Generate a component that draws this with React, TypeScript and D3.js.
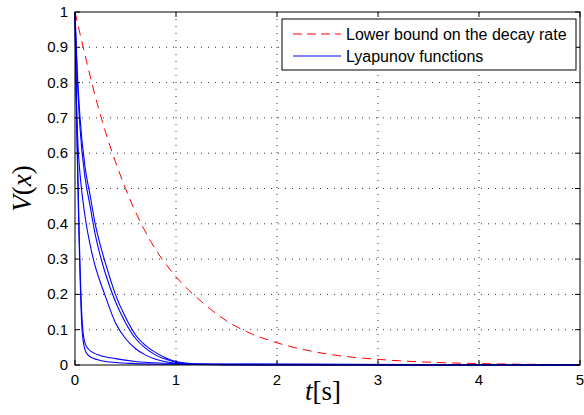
import * as React from 'react';
import {scaleLinear, line, curveMonotoneX} from 'd3';

// lower bound on the decay rate (red dashed)
const boundT = [0, 0.25, 0.5, 0.75, 1, 1.25, 1.5, 1.75, 2, 2.5, 3, 3.5, 4, 4.5, 5];
const boundV = [1, 0.71, 0.5, 0.35, 0.25, 0.18, 0.125, 0.088, 0.063, 0.031, 0.016, 0.008, 0.004, 0.002, 0.001];

// Lyapunov functions (blue), [t, V]
const fastUpper: [number, number][] = [[0, 1], [0.01, 0.82], [0.02, 0.66], [0.03, 0.52], [0.04, 0.39], [0.05, 0.28], [0.06, 0.19], [0.07, 0.13], [0.08, 0.092], [0.1, 0.062], [0.13, 0.046], [0.18, 0.035], [0.25, 0.027], [0.4, 0.018], [0.6, 0.01], [0.9, 0.005], [1.5, 0.001], [5, 0]];
const fastLower: [number, number][] = [[0, 1], [0.01, 0.8], [0.02, 0.63], [0.03, 0.49], [0.04, 0.36], [0.05, 0.25], [0.06, 0.16], [0.07, 0.1], [0.08, 0.07], [0.1, 0.042], [0.13, 0.028], [0.18, 0.019], [0.25, 0.013], [0.4, 0.007], [0.6, 0.004], [0.9, 0.002], [1.5, 0.0005], [5, 0]];
const slowA: [number, number][] = [[0, 1], [0.01, 0.8], [0.03, 0.62], [0.05, 0.54], [0.1, 0.42], [0.15, 0.34], [0.2, 0.28], [0.25, 0.235], [0.3, 0.195], [0.4, 0.12], [0.5, 0.075], [0.6, 0.046], [0.7, 0.028], [0.8, 0.016], [0.9, 0.009], [1.0, 0.005], [1.2, 0.002], [5, 0]];
const slowB: [number, number][] = [[0, 1], [0.02, 0.83], [0.05, 0.67], [0.1, 0.53], [0.15, 0.45], [0.2, 0.37], [0.25, 0.31], [0.3, 0.26], [0.4, 0.18], [0.5, 0.12], [0.6, 0.075], [0.7, 0.047], [0.8, 0.028], [0.9, 0.016], [1.0, 0.008], [1.2, 0.003], [5, 0]];
const slowC: [number, number][] = [[0, 1], [0.02, 0.85], [0.05, 0.7], [0.1, 0.56], [0.15, 0.48], [0.2, 0.4], [0.25, 0.34], [0.3, 0.29], [0.4, 0.2], [0.5, 0.135], [0.6, 0.085], [0.7, 0.055], [0.8, 0.035], [0.9, 0.02], [1.0, 0.01], [1.2, 0.003], [1.5, 0.001], [5, 0]];
const lyapunovCurves = [fastUpper, fastLower, slowA, slowB, slowC];

const xTicks = [0, 1, 2, 3, 4, 5];
const yTicks = [0, 0.1, 0.2, 0.3, 0.4, 0.5, 0.6, 0.7, 0.8, 0.9, 1];
const yTickLabels = ['0', '0.1', '0.2', '0.3', '0.4', '0.5', '0.6', '0.7', '0.8', '0.9', '1'];
const legendLabels = ['Lower bound on the decay rate', 'Lyapunov functions'];

const W = 584;
const H = 415;
const margin = {top: 12, right: 4, bottom: 50, left: 75};
const width = W - margin.left - margin.right;
const height = H - margin.top - margin.bottom;

const xScale = scaleLinear().domain([0, 5]).range([0, width]);
const yScale = scaleLinear().domain([0, 1]).range([height, 0]);

const pathOf = line<[number, number]>()
    .x(d => xScale(d[0]))
    .y(d => yScale(d[1]))
    .curve(curveMonotoneX);

const boundPts = boundT.map((t, i) => [t, boundV[i]] as [number, number]);

const tickFont = '"Liberation Sans", Arial, Helvetica, sans-serif';
const mathFont = '"Liberation Serif", "Times New Roman", serif';
const tickLen = 5;

export default function App() {
    return (
        <svg width={W} height={H} style={{position: 'absolute', left: 0, top: 0, background: '#fff'}}>
            <rect x={0} y={0} width={W} height={H} fill="#fff" />
            <g transform={`translate(${margin.left}, ${margin.top})`}>
                {/* grid */}
                {xTicks.slice(1, -1).map(t =>
                    <line key={'gx' + t} x1={xScale(t)} x2={xScale(t)} y1={0} y2={height}
                        stroke="#000" strokeWidth={1} strokeDasharray="1,6" opacity={0.8} />
                )}
                {yTicks.slice(1, -1).map(t =>
                    <line key={'gy' + t} x1={0} x2={width} y1={yScale(t)} y2={yScale(t)}
                        stroke="#000" strokeWidth={1} strokeDasharray="1,6" opacity={0.8} />
                )}
                {/* curves */}
                <path d={pathOf(boundPts)!} fill="none" stroke="#ff0000" strokeWidth={1}
                    strokeDasharray="9,6" />
                {lyapunovCurves.map((c, i) =>
                    <path key={i} d={pathOf(c)!} fill="none" stroke="#0000ff" strokeWidth={1.1} />
                )}
                {/* box and ticks */}
                <rect x={0} y={0} width={width} height={height} fill="none" stroke="#000" strokeWidth={1} />
                {xTicks.map(t =>
                    <g key={'tx' + t}>
                        <line x1={xScale(t)} x2={xScale(t)} y1={height} y2={height - tickLen} stroke="#000" />
                        <line x1={xScale(t)} x2={xScale(t)} y1={0} y2={tickLen} stroke="#000" />
                        <text x={xScale(t)} y={height + 20} textAnchor="middle" fontFamily={tickFont}
                            fontSize={15} fill="#000">{t}</text>
                    </g>
                )}
                {yTicks.map((t, i) =>
                    <g key={'ty' + t}>
                        <line x1={0} x2={tickLen} y1={yScale(t)} y2={yScale(t)} stroke="#000" />
                        <line x1={width} x2={width - tickLen} y1={yScale(t)} y2={yScale(t)} stroke="#000" />
                        <text x={-7} y={yScale(t) + 5} textAnchor="end" fontFamily={tickFont}
                            fontSize={15} fill="#000">{yTickLabels[i]}</text>
                    </g>
                )}
                {/* legend */}
                <g transform={`translate(${width - 298}, 7)`}>
                    <rect x={0} y={0} width={294} height={51} fill="#fff" stroke="#000" strokeWidth={1} />
                    <line x1={11} x2={59} y1={15} y2={15} stroke="#ff0000" strokeDasharray="9,5" />
                    <text x={64} y={20.5} fontFamily={tickFont} fontSize={16} fill="#000">{legendLabels[0]}</text>
                    <line x1={11} x2={59} y1={37} y2={37} stroke="#0000ff" />
                    <text x={64} y={42.5} fontFamily={tickFont} fontSize={16} fill="#000">{legendLabels[1]}</text>
                </g>
            </g>
            {/* axis labels */}
            <text transform={`translate(31, ${margin.top + height / 2}) rotate(-90)`} textAnchor="middle"
                fontFamily={mathFont} fontSize={27} fill="#000">
                <tspan fontStyle="italic">V</tspan>(<tspan fontStyle="italic">x</tspan>)
            </text>
            <text x={323} y={400} textAnchor="middle" fontFamily={mathFont}
                fontSize={27} fill="#000">
                <tspan fontStyle="italic">t</tspan>[s]
            </text>
        </svg>
    );
}
